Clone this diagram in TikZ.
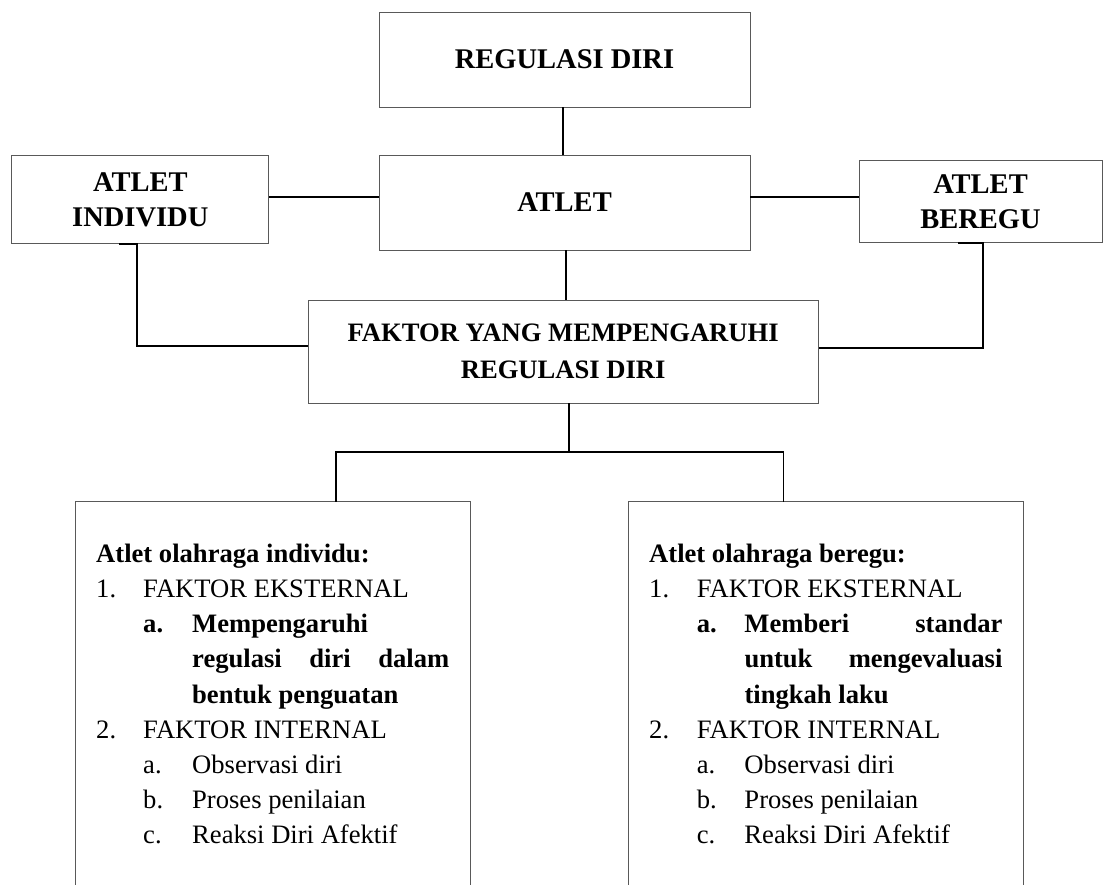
\documentclass[tikz,border=0pt]{standalone}
\usepackage{fontspec}
\setmainfont{Liberation Serif}
\newcommand\natsp{\spaceskip=0pt\xspaceskip=0pt\relax}
\begin{document}
\begin{tikzpicture}[x=1pt,y=-1pt,
  box/.style={draw=black!65, line width=0.9pt, inner sep=0pt, align=center,
    font=\fontsize{28.5}{35}\selectfont\bfseries},
  fakbox/.style={box, font=\fontsize{26.6}{36.6}\selectfont\bfseries},
  boxline/.style={draw=black!65, line width=0.9pt},
  conn/.style={draw=black, line width=1.8pt},
  listtext/.style={inner sep=0pt, anchor=base west, text width=420pt, align=left,
    font=\fontsize{26.6}{35.2}\selectfont}]
\useasboundingbox (0,0) rectangle (1103,884);

% top boxes
\node[box, minimum width=371pt, minimum height=95pt] (reg) at (564.5,59.5) {\natsp REGULASI DIRI};
\node[box, minimum width=371pt, minimum height=95pt] (atlet) at (564.5,202.5) {\natsp ATLET};
\node[box, minimum width=257pt, minimum height=88pt] (ind) at (140.3,199.8) {\natsp ATLET\\INDIVIDU};
\node[box, minimum width=243pt, minimum height=81.6pt] (ber) at (980.5,201.5) {\natsp ATLET\\BEREGU};
\node[fakbox, minimum width=509.7pt, minimum height=103pt] (fak) at (563.2,351.5) {\natsp FAKTOR YANG MEMPENGARUHI\\REGULASI DIRI};

% bottom (open) boxes
\node[inner sep=0pt, minimum width=394pt, minimum height=400pt] (lbox) at (273,701.7) {};
\node[inner sep=0pt, minimum width=394.4pt, minimum height=400pt] (rbox) at (825.8,701.7) {};
\draw[boxline] (lbox.south west) -- (lbox.north west) -- (lbox.north east) -- (lbox.south east);
\draw[boxline] (rbox.south west) -- (rbox.north west) -- (rbox.north east) -- (rbox.south east);

% helper coordinates
\coordinate (hy) at (0,197.3);
\coordinate (lk) at (136.7,345.7);
\coordinate (lst) at (119,0);
\coordinate (rk) at (983.3,347.7);
\coordinate (rst) at (958,0);
\coordinate (split) at (568.8,451.7);
\coordinate (sl) at (336,451.7);
\coordinate (sr) at (783.4,451.7);
\coordinate (vt) at (562.7,0);
\coordinate (vb) at (566,0);

% connectors
\draw[conn] (vt |- reg.south) -- (vt |- atlet.north);
\draw[conn] (ind.east |- hy) -- (atlet.west |- hy);
\draw[conn] (atlet.east |- hy) -- (ber.west |- hy);
\draw[conn] (vb |- atlet.south) -- (vb |- fak.north);
\draw[conn] (lst |- ind.south) -- (lk |- ind.south) -- (lk) -- (lk -| fak.west);
\draw[conn] (rst |- ber.south) -- (rk |- ber.south) -- (rk) -- (rk -| fak.east);
\draw[conn] (split |- fak.south) -- (split);
\draw[conn] (sl |- lbox.north) -- (sl) -- (sr) -- (sr |- rbox.north);

% list texts
\node[listtext] (ltext) at (96,562.3) {\natsp
\textbf{Atlet olahraga individu:}\\
\makebox[47pt][l]{1.}FAKTOR EKSTERNAL\\
\hspace*{47pt}\makebox[49pt][l]{\bfseries a.}\textbf{Mempengaruhi}\\
\hspace*{96pt}\makebox[257pt][s]{\bfseries regulasi\hfill diri\hfill dalam}\\
\hspace*{96pt}\textbf{bentuk penguatan}\\
\makebox[47pt][l]{2.}FAKTOR INTERNAL\\
\hspace*{47pt}\makebox[49pt][l]{a.}Observasi diri\\
\hspace*{47pt}\makebox[49pt][l]{b.}Proses penilaian\\
\hspace*{47pt}\makebox[49pt][l]{c.}Reaksi Diri Afektif};

\node[listtext] (rtext) at (649,562.3) {\natsp
\textbf{Atlet olahraga beregu:}\\
\makebox[47.7pt][l]{1.}FAKTOR EKSTERNAL\\
\hspace*{47.7pt}\makebox[47.6pt][l]{\bfseries a.}\makebox[258pt][s]{\bfseries Memberi\hfill standar}\\
\hspace*{95.3pt}\makebox[258pt][s]{\bfseries untuk\hfill mengevaluasi}\\
\hspace*{95.3pt}\textbf{tingkah laku}\\
\makebox[47.7pt][l]{2.}FAKTOR INTERNAL\\
\hspace*{47.7pt}\makebox[47.6pt][l]{a.}Observasi diri\\
\hspace*{47.7pt}\makebox[47.6pt][l]{b.}Proses penilaian\\
\hspace*{47.7pt}\makebox[47.6pt][l]{c.}Reaksi Diri Afektif};
\end{tikzpicture}
\end{document}
